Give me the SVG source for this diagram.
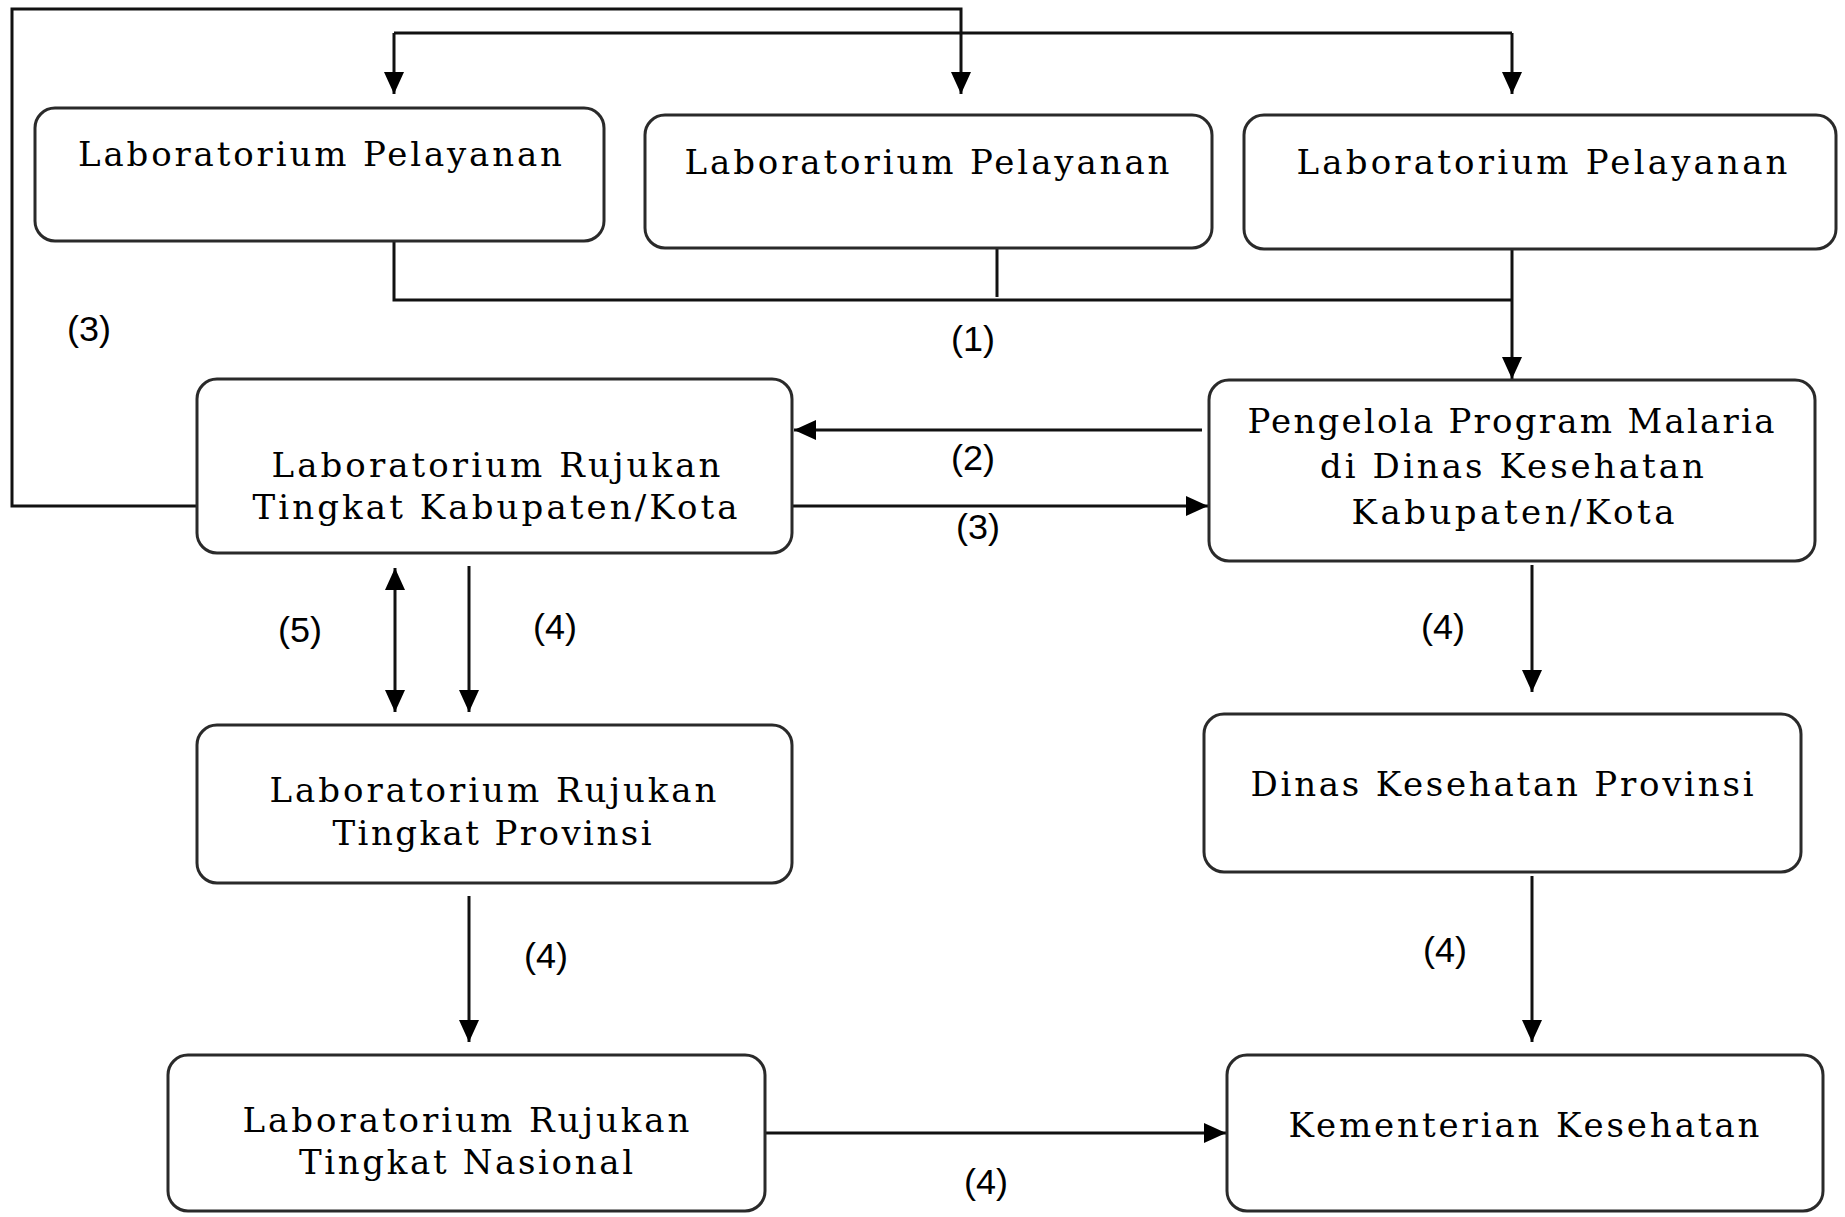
<svg xmlns="http://www.w3.org/2000/svg" width="1845" height="1217" viewBox="0 0 1845 1217">
<style>
.box{fill:#fff;stroke:#2a2a2a;stroke-width:3}
.t{font-family:"DejaVu Serif","Liberation Serif",serif;font-size:34px;fill:#000;text-anchor:middle}
.lbl{font-family:"Liberation Sans",Arial,sans-serif;font-size:35px;fill:#000;text-anchor:middle}
.ln{fill:none;stroke:#111;stroke-width:3}
</style>
<defs>
<marker id="ah" viewBox="0 0 22 20" refX="22" refY="10" markerWidth="22" markerHeight="20" markerUnits="userSpaceOnUse" orient="auto-start-reverse">
<path d="M0,0 L22,10 L0,20 z" fill="#000"/>
</marker>
</defs>
<rect width="1845" height="1217" fill="#fff"/>
<g id="connectors">
<path class="ln" d="M197,506 H12 V9 H961 V94" marker-end="url(#ah)"/>
<path class="ln" d="M394,33 H1512"/>
<path class="ln" d="M394,33 V94" marker-end="url(#ah)"/>
<path class="ln" d="M1512,33 V94" marker-end="url(#ah)"/>
<path class="ln" d="M394,241 V300 H1512"/>
<path class="ln" d="M997,248 V297"/>
<path class="ln" d="M1512,249 V379" marker-end="url(#ah)"/>
<path class="ln" d="M1202,430 H794" marker-end="url(#ah)"/>
<path class="ln" d="M792,506 H1208" marker-end="url(#ah)"/>
<path class="ln" d="M395,568 V712" marker-start="url(#ah)" marker-end="url(#ah)"/>
<path class="ln" d="M469,566 V712" marker-end="url(#ah)"/>
<path class="ln" d="M469,896 V1042" marker-end="url(#ah)"/>
<path class="ln" d="M765,1133 H1226" marker-end="url(#ah)"/>
<path class="ln" d="M1532,565 V692" marker-end="url(#ah)"/>
<path class="ln" d="M1532,876 V1042" marker-end="url(#ah)"/>
<text class="lbl" x="89" y="341" textLength="44" lengthAdjust="spacingAndGlyphs">(3)</text>
<text class="lbl" x="973" y="351" textLength="44" lengthAdjust="spacingAndGlyphs">(1)</text>
<text class="lbl" x="973" y="470" textLength="44" lengthAdjust="spacingAndGlyphs">(2)</text>
<text class="lbl" x="978" y="539" textLength="44" lengthAdjust="spacingAndGlyphs">(3)</text>
<text class="lbl" x="300" y="642" textLength="44" lengthAdjust="spacingAndGlyphs">(5)</text>
<text class="lbl" x="555" y="639" textLength="44" lengthAdjust="spacingAndGlyphs">(4)</text>
<text class="lbl" x="1443" y="639" textLength="44" lengthAdjust="spacingAndGlyphs">(4)</text>
<text class="lbl" x="546" y="968" textLength="44" lengthAdjust="spacingAndGlyphs">(4)</text>
<text class="lbl" x="1445" y="962" textLength="44" lengthAdjust="spacingAndGlyphs">(4)</text>
<text class="lbl" x="986" y="1194" textLength="44" lengthAdjust="spacingAndGlyphs">(4)</text>
</g>
<g id="lab-pelayanan-1">
<rect class="box" x="35" y="108" width="569" height="133" rx="20"/>
<text class="t" x="320" y="166" textLength="484" lengthAdjust="spacing">Laboratorium Pelayanan</text>
</g>
<g id="lab-pelayanan-2">
<rect class="box" x="645" y="115" width="567" height="133" rx="20"/>
<text class="t" x="927" y="174" textLength="485" lengthAdjust="spacing">Laboratorium Pelayanan</text>
</g>
<g id="lab-pelayanan-3">
<rect class="box" x="1244" y="115" width="592" height="134" rx="20"/>
<text class="t" x="1542" y="174" textLength="491" lengthAdjust="spacing">Laboratorium Pelayanan</text>
</g>
<g id="lab-kab">
<rect class="box" x="197" y="379" width="595" height="174" rx="20"/>
<text class="t" x="496" y="477" textLength="449" lengthAdjust="spacing">Laboratorium Rujukan</text>
<text class="t" x="495" y="519" textLength="485" lengthAdjust="spacing">Tingkat Kabupaten/Kota</text>
</g>
<g id="pengelola">
<rect class="box" x="1209" y="380" width="606" height="181" rx="20"/>
<text class="t" x="1511" y="433" textLength="527" lengthAdjust="spacing">Pengelola Program Malaria</text>
<text class="t" x="1512" y="478" textLength="384" lengthAdjust="spacing">di Dinas Kesehatan</text>
<text class="t" x="1513" y="524" textLength="323" lengthAdjust="spacing">Kabupaten/Kota</text>
</g>
<g id="dinas-prov">
<rect class="box" x="1204" y="714" width="597" height="158" rx="20"/>
<text class="t" x="1502" y="796" textLength="503" lengthAdjust="spacing">Dinas Kesehatan Provinsi</text>
</g>
<g id="lab-prov">
<rect class="box" x="197" y="725" width="595" height="158" rx="20"/>
<text class="t" x="493" y="802" textLength="447" lengthAdjust="spacing">Laboratorium Rujukan</text>
<text class="t" x="492" y="845" textLength="319" lengthAdjust="spacing">Tingkat Provinsi</text>
</g>
<g id="lab-nasional">
<rect class="box" x="168" y="1055" width="597" height="156" rx="20"/>
<text class="t" x="466" y="1132" textLength="447" lengthAdjust="spacing">Laboratorium Rujukan</text>
<text class="t" x="466" y="1174" textLength="334" lengthAdjust="spacing">Tingkat Nasional</text>
</g>
<g id="kemenkes">
<rect class="box" x="1227" y="1055" width="596" height="156" rx="20"/>
<text class="t" x="1524" y="1137" textLength="471" lengthAdjust="spacing">Kementerian Kesehatan</text>
</g>
</svg>
